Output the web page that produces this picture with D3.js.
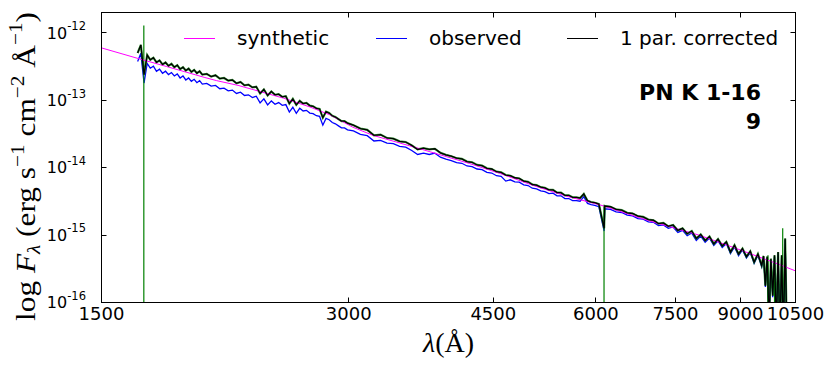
<!DOCTYPE html>
<html><head><meta charset="utf-8">
<script src="https://cdn.jsdelivr.net/npm/d3@7"></script>
<style>body{margin:0;background:#fff}svg{display:block}</style>
</head><body><svg id="c" width="830" height="368"></svg>
<script>
// ---- data (wavelength in Angstrom, flux as log10 of erg s-1 cm-2 A-1) ----
const wavelength = [1660,1675,1690,1705,1720,1735,1750,1765,1780,1795,1810,1825,1840,1855,1870,1885,1900,1915,1930,1945,1960,1975,1990,
2015,2040,2065,2090,2115,2140,2165,2190,2215,2240,2265,2290,2315,2340,2365,2390,2415,2440,2465,2490,2515,2540,2565,2590,2615,2640,2665,2690,2715,2740,2765,2790,2815,2840,2865,2890,2915,2940,2965,2990,
3040,3100,3160,3220,3280,3340,3400,3460,3520,3580,3640,3700,3760,3820,3880,3940,4000,4060,4120,4180,4240,4300,4360,4420,4480,4540,4600,4660,4720,4780,4840,4900,4960,5020,5080,5140,5200,5260,5320,5380,5440,5500,5560,5620,5680,5740,5800,5860,5920,5980,
6050,6140,6150,6250,6350,6450,6550,6650,6750,6850,6950,7050,7150,7250,7350,7450,7550,7650,7750,7850,7950,8050,8150,8250,8350,8450,8550,8650,8750,8850,8950,9050,9150,9250,9350,9450,9550,9600,9650,9700,9750,9800,9850,9900,9950,10000,10050,10100,10150,10200,10250];

const correctedLogF = [-12.30,-12.18,-12.62,-12.33,-12.40,-12.37,-12.44,-12.41,-12.47,-12.44,-12.49,-12.46,-12.51,-12.48,-12.54,-12.51,-12.56,-12.53,-12.58,-12.55,-12.60,-12.57,-12.62,
-12.61,-12.65,-12.63,-12.68,-12.67,-12.71,-12.70,-12.75,-12.73,-12.78,-12.77,-12.81,-12.80,-12.90,-12.84,-12.93,-12.87,-12.92,-12.91,-12.95,-12.94,-13.05,-12.98,-13.07,-13.01,-13.05,-13.04,-13.08,-13.09,-13.12,-13.13,-13.26,-13.17,-13.19,-13.23,-13.25,-13.28,-13.31,-13.31,-13.34,
-13.37,-13.42,-13.44,-13.52,-13.51,-13.56,-13.57,-13.61,-13.62,-13.67,-13.73,-13.71,-13.73,-13.72,-13.78,-13.81,-13.83,-13.86,-13.87,-13.91,-13.92,-13.96,-13.97,-14.01,-14.02,-14.06,-14.07,-14.11,-14.12,-14.15,-14.16,-14.20,-14.21,-14.25,-14.26,-14.29,-14.30,-14.33,-14.33,-14.37,-14.37,-14.41,-14.41,-14.44,-14.44,-14.45,-14.39,-14.49,-14.51,-14.52,
-14.54,-14.90,-14.57,-14.58,-14.62,-14.63,-14.67,-14.68,-14.72,-14.73,-14.77,-14.78,-14.83,-14.82,-14.87,-14.85,-14.93,-14.90,-14.98,-14.94,-15.05,-14.99,-15.08,-15.02,-15.13,-15.06,-15.16,-15.10,-15.25,-15.15,-15.28,-15.20,-15.32,-15.24,-15.40,-15.28,-15.45,-15.31,-15.75,-15.32,-16.30,-15.35,-15.90,-15.30,-16.40,-15.25,-16.50,-15.30,-16.50,-15.05,-16.50];

const observedLogF = [-12.425,-12.305,-12.745,-12.455,-12.525,-12.495,-12.57,-12.54,-12.60,-12.57,-12.62,-12.59,-12.64,-12.61,-12.67,-12.64,-12.70,-12.67,-12.72,-12.69,-12.74,-12.71,-12.76,
-12.75,-12.79,-12.78,-12.83,-12.82,-12.86,-12.85,-12.90,-12.88,-12.93,-12.92,-12.96,-12.94,-13.04,-12.98,-13.07,-13.01,-13.06,-13.035,-13.075,-13.065,-13.175,-13.105,-13.195,-13.12,-13.16,-13.15,-13.19,-13.20,-13.23,-13.24,-13.37,-13.27,-13.29,-13.33,-13.35,-13.38,-13.41,-13.41,-13.44,
-13.455,-13.505,-13.525,-13.605,-13.595,-13.635,-13.645,-13.685,-13.695,-13.745,-13.805,-13.785,-13.805,-13.785,-13.845,-13.875,-13.895,-13.925,-13.935,-13.975,-13.985,-14.02,-14.03,-14.07,-14.08,-14.12,-14.13,-14.20,-14.18,-14.21,-14.215,-14.255,-14.265,-14.305,-14.315,-14.345,-14.355,-14.385,-14.378,-14.418,-14.418,-14.458,-14.458,-14.488,-14.488,-14.498,-14.43,-14.53,-14.55,-14.56,
-14.58,-14.94,-14.61,-14.62,-14.655,-14.665,-14.705,-14.715,-14.755,-14.765,-14.805,-14.81,-14.86,-14.85,-14.90,-14.88,-14.96,-14.93,-15.01,-14.97,-15.08,-15.015,-15.105,-15.045,-15.155,-15.085,-15.185,-15.125,-15.275,-15.175,-15.305,-15.22,-15.34,-15.26,-15.42,-15.30,-15.47,-15.33,-15.77,-15.34,-16.32,-15.37,-15.92,-15.32,-16.42,-15.27,-16.52,-15.32,-16.52,-15.07,-16.52];

const syntheticWave = [1500,1661,1800,2000,2072,2200,2338,2500,2691,2850,3035,3210,3663,4213,4583,5028,5532,6069,6981,8033,9000,10000,10500];
const syntheticLogF = [-12.224,-12.38,-12.50,-12.66,-12.71,-12.78,-12.87,-12.97,-13.10,-13.22,-13.40,-13.52,-13.72,-13.94,-14.085,-14.262,-14.425,-14.552,-14.792,-15.005,-15.222,-15.43,-15.531];

// green spikes of the corrected spectrum (wavelength, top log10 flux)
const spikeWave = [1689, 6138, 9720, 9900, 10130];
const spikeTopLogF = [-11.89, -14.55, -15.30, -15.33, -14.90];

const xTicks = [1500, 3000, 4500, 6000, 7500, 9000, 10500];
const yTickExp = [-12, -13, -14, -15, -16];
const seriesNames = ["synthetic", "observed", "1 par. corrected"];
const seriesColors = ["#ff00ff", "#0000ff", "#000000"];

// ---- chart ----
const svg = d3.select("#c");
const L = 101.5, R = 795.5, T = 12.5, B = 302.5;
const x = d3.scaleLog().domain([1500, 10500]).range([L, R]);
const y = d3.scaleLog().domain([1e-16, 2e-12]).range([B, T]);

svg.append("defs").append("clipPath").attr("id", "clip")
  .append("rect").attr("x", L).attr("y", T).attr("width", R - L).attr("height", B - T);

const plot = svg.append("g").attr("clip-path", "url(#clip)");
const line = d3.line().x(d => x(d[0])).y(d => y(d[1]));

const synth = syntheticWave.map((w, i) => [w, Math.pow(10, syntheticLogF[i])]);
const obs = wavelength.map((w, i) => [w, Math.pow(10, observedLogF[i])]);
const corr = wavelength.map((w, i) => [w, Math.pow(10, correctedLogF[i])]);

plot.append("path").datum(obs).attr("d", line).attr("fill", "none").attr("stroke", seriesColors[1]).attr("stroke-width", 1.3);
plot.append("path").datum(corr).attr("d", line).attr("fill", "none").attr("stroke", "#008000").attr("stroke-width", 2.2).attr("stroke-opacity", 0.75);
plot.selectAll(".spike").data(spikeWave).enter().append("line")
  .attr("x1", d => x(d)).attr("x2", d => x(d))
  .attr("y1", (d, i) => y(Math.pow(10, spikeTopLogF[i]))).attr("y2", y(1e-17))
  .attr("stroke", "#008000").attr("stroke-width", 1.2);
plot.append("path").datum(synth).attr("d", line).attr("fill", "none").attr("stroke", seriesColors[0]).attr("stroke-width", 1);
plot.append("path").datum(corr).attr("d", line).attr("fill", "none").attr("stroke", seriesColors[2]).attr("stroke-width", 1.3);

// frame
svg.append("rect").attr("x", L).attr("y", T).attr("width", R - L).attr("height", B - T)
  .attr("fill", "none").attr("stroke", "#000").attr("stroke-width", 1);

// ticks
const tk = 5;
xTicks.forEach(t => {
  const px = Math.round(x(t) - 0.5) + 0.5;
  svg.append("line").attr("x1", px).attr("x2", px).attr("y1", B).attr("y2", B - tk).attr("stroke", "#000");
  svg.append("line").attr("x1", px).attr("x2", px).attr("y1", T).attr("y2", T + tk).attr("stroke", "#000");
  svg.append("text").attr("x", x(t)).attr("y", 319.5).attr("text-anchor", "middle")
    .attr("font-family", "DejaVu Sans").attr("font-size", 18).text(t);
});
yTickExp.forEach(e => {
  const v = Math.pow(10, e);
  const py = Math.round(y(v) - 0.5) + 0.5;
  svg.append("line").attr("x1", L).attr("x2", L + tk).attr("y1", py).attr("y2", py).attr("stroke", "#000");
  svg.append("line").attr("x1", R).attr("x2", R - tk).attr("y1", py).attr("y2", py).attr("stroke", "#000");
  const tx = svg.append("text").attr("x", 86).attr("y", y(v) + 5.8).attr("text-anchor", "end")
    .attr("font-family", "DejaVu Sans").attr("font-size", 16);
  tx.append("tspan").text("10");
  tx.append("tspan").attr("font-size", 11.5).attr("dy", -8.5).text("-" + Math.abs(e));
});

// axis labels
const xl = svg.append("text").attr("x", (L + R) / 2).attr("y", 352).attr("text-anchor", "middle")
  .attr("font-family", "Liberation Serif").attr("font-size", 28);
xl.append("tspan").attr("font-style", "italic").text("λ");
xl.append("tspan").text("(Å)");

const yl = svg.append("text").attr("transform", "translate(35,166.5) rotate(-90)").attr("text-anchor", "middle")
  .attr("font-family", "Liberation Serif").attr("font-size", 28)
  .attr("textLength", 309).attr("lengthAdjust", "spacingAndGlyphs");
yl.append("tspan").text("log ");
yl.append("tspan").attr("font-style", "italic").text("F");
yl.append("tspan").attr("font-style", "italic").attr("font-size", 19).attr("dy", 5).text("λ");
yl.append("tspan").attr("dy", -5).text(" (erg s");
yl.append("tspan").attr("font-size", 19).attr("dy", -11).text("−1");
yl.append("tspan").attr("dy", 11).text(" cm");
yl.append("tspan").attr("font-size", 19).attr("dy", -11).text("−2");
yl.append("tspan").attr("dy", 11).text(" Å");
yl.append("tspan").attr("font-size", 19).attr("dy", -13).text("−1");
yl.append("tspan").attr("dy", 13).text(")");

// legend
const legX = [184, 376, 567];
seriesNames.forEach((n, i) => {
  svg.append("line").attr("x1", legX[i]).attr("x2", legX[i] + 31).attr("y1", 38.5).attr("y2", 38.5)
    .attr("stroke", seriesColors[i]).attr("stroke-width", 1);
  svg.append("text").attr("x", legX[i] + 53).attr("y", 45).attr("font-family", "DejaVu Sans")
    .attr("font-size", 20).text(n);
});

// annotation
["PN K 1-16", "9"].forEach((s, i) => {
  svg.append("text").attr("x", 761).attr("y", 99.5 + i * 29).attr("text-anchor", "end")
    .attr("font-family", "DejaVu Sans").attr("font-weight", "bold").attr("font-size", 22).text(s);
});
</script></body></html>
